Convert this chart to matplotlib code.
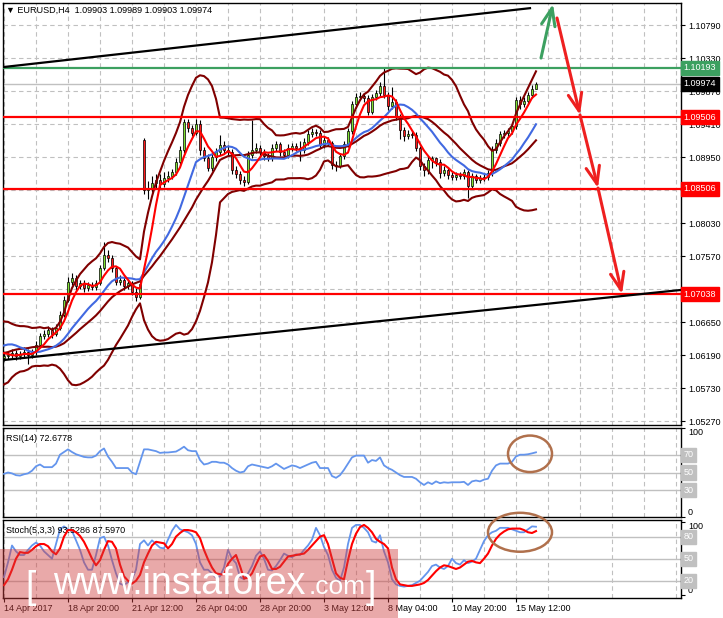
#!/usr/bin/env python3
"""
EURUSD H4 chart in MT4 style: candles, Bollinger bands, moving averages,
support/resistance levels, RSI(14) and Stochastic(5,3,3) panels.
"""

import matplotlib
matplotlib.use('Agg')  # Non-interactive backend
import matplotlib.pyplot as plt
import matplotlib.transforms as mtransforms
from matplotlib.patches import Ellipse, Rectangle
import numpy as np
import pandas as pd

plt.rcParams['font.family'] = ['Liberation Sans', 'DejaVu Sans']

# ---------------------------------------------------------------- data
# closes before the first visible bar, only used to warm up the indicators
warmup_close = [1.0585, 1.0595, 1.0580, 1.0590, 1.0600, 1.0615, 1.0605, 1.0600, 1.0620, 1.0640,
                1.0655, 1.0650, 1.0660, 1.0645, 1.0635, 1.0640, 1.0625, 1.0630, 1.0620, 1.0615]

bar_open = [1.0615, 1.0618, 1.0619, 1.0622, 1.0618, 1.0620, 1.0623, 1.0619, 1.0623, 1.0633,
            1.0646, 1.0648, 1.0654, 1.0648, 1.0657, 1.0675, 1.0696, 1.0721, 1.0726, 1.0715,
            1.0719, 1.0712, 1.0717, 1.0714, 1.0719, 1.0740, 1.0758, 1.0754, 1.0740, 1.0721,
            1.0724, 1.0715, 1.0719, 1.0707, 1.0700, 1.0919, 1.0849, 1.0852, 1.0859, 1.0863,
            1.0857, 1.0866, 1.0869, 1.0874, 1.0888, 1.0905, 1.0944, 1.0935, 1.0929, 1.0941,
            1.0905, 1.0894, 1.0880, 1.0895, 1.0902, 1.0912, 1.0905, 1.0902, 1.0877, 1.0871,
            1.0863, 1.0860, 1.0898, 1.0905, 1.0908, 1.0902, 1.0896, 1.0894, 1.0908, 1.0913,
            1.0902, 1.0898, 1.0908, 1.0910, 1.0908, 1.0905, 1.0916, 1.0927, 1.0930, 1.0929,
            1.0912, 1.0919, 1.0915, 1.0884, 1.0882, 1.0896, 1.0913, 1.0931, 1.0969, 1.0979,
            1.0980, 1.0977, 1.0958, 1.0979, 1.0984, 1.0994, 1.0981, 1.0966, 1.0972, 1.0951,
            1.0933, 1.0924, 1.0927, 1.0926, 1.0908, 1.0882, 1.0877, 1.0891, 1.0893, 1.0888,
            1.0873, 1.0877, 1.0870, 1.0867, 1.0870, 1.0869, 1.0874, 1.0855, 1.0869, 1.0863,
            1.0866, 1.0867, 1.0873, 1.0905, 1.0915, 1.0927, 1.0929, 1.0931, 1.0938, 1.0974,
            1.0969, 1.0973, 1.0981, 1.09903]

bar_high = [1.0623, 1.0624, 1.0628, 1.0626, 1.0625, 1.0630, 1.0627, 1.0627, 1.0638, 1.0650,
            1.0654, 1.0659, 1.0658, 1.0662, 1.0680, 1.0702, 1.0728, 1.0733, 1.0730, 1.0724,
            1.0723, 1.0721, 1.0721, 1.0724, 1.0745, 1.0777, 1.0765, 1.0758, 1.0743, 1.0730,
            1.0728, 1.0723, 1.0722, 1.0712, 1.0723, 1.0921, 1.0862, 1.0868, 1.0871, 1.0872,
            1.0874, 1.0876, 1.0879, 1.0893, 1.0910, 1.0948, 1.0948, 1.0940, 1.0948, 1.0946,
            1.0909, 1.0899, 1.0900, 1.0907, 1.0926, 1.0917, 1.0912, 1.0906, 1.0882, 1.0875,
            1.0868, 1.0903, 1.0947, 1.0914, 1.0912, 1.0906, 1.0900, 1.0913, 1.0918, 1.0916,
            1.0906, 1.0913, 1.0915, 1.0914, 1.0917, 1.0921, 1.0932, 1.0935, 1.0934, 1.0933,
            1.0924, 1.0923, 1.0918, 1.0890, 1.0900, 1.0917, 1.0935, 1.0973, 1.0984, 1.0985,
            1.0984, 1.0982, 1.0983, 1.0989, 1.0999, 1.1019, 1.0985, 1.0993, 1.0976, 1.0955,
            1.0937, 1.0932, 1.0931, 1.0930, 1.0911, 1.0887, 1.0896, 1.0897, 1.0895, 1.0892,
            1.0882, 1.0881, 1.0874, 1.0874, 1.0874, 1.0878, 1.0877, 1.0873, 1.0872, 1.0870,
            1.0871, 1.0877, 1.0910, 1.0920, 1.0931, 1.0932, 1.0935, 1.0943, 1.0978, 1.0980,
            1.0978, 1.0985, 1.0995, 1.09989]

bar_low = [1.0611, 1.0613, 1.0615, 1.0612, 1.0614, 1.0616, 1.0606, 1.0615, 1.0619, 1.0630,
           1.0641, 1.0644, 1.0643, 1.0645, 1.0654, 1.0672, 1.0693, 1.0716, 1.0710, 1.0711,
           1.0707, 1.0708, 1.0709, 1.0710, 1.0716, 1.0737, 1.0748, 1.0735, 1.0716, 1.0717,
           1.0710, 1.0711, 1.0703, 1.0694, 1.0697, 1.0843, 1.0836, 1.0846, 1.0852, 1.0850,
           1.0853, 1.0860, 1.0864, 1.0870, 1.0884, 1.0900, 1.0930, 1.0924, 1.0926, 1.0898,
           1.0889, 1.0875, 1.0876, 1.0890, 1.0898, 1.0900, 1.0897, 1.0872, 1.0866, 1.0858,
           1.0854, 1.0857, 1.0894, 1.0900, 1.0897, 1.0891, 1.0889, 1.0890, 1.0904, 1.0897,
           1.0893, 1.0894, 1.0904, 1.0903, 1.0890, 1.0901, 1.0912, 1.0923, 1.0924, 1.0907,
           1.0908, 1.0910, 1.0878, 1.0876, 1.0880, 1.0892, 1.0909, 1.0927, 1.0964, 1.0974,
           1.0972, 1.0953, 1.0955, 1.0975, 1.0980, 1.0977, 1.0961, 1.0962, 1.0946, 1.0920,
           1.0918, 1.0920, 1.0921, 1.0903, 1.0877, 1.0868, 1.0872, 1.0880, 1.0883, 1.0866,
           1.0869, 1.0865, 1.0863, 1.0863, 1.0864, 1.0865, 1.0838, 1.0851, 1.0859, 1.0859,
           1.0861, 1.0863, 1.0869, 1.0900, 1.0911, 1.0922, 1.0923, 1.0927, 1.0934, 1.0962,
           1.0965, 1.0969, 1.0977, 1.09903]

bar_close = [1.0618, 1.0619, 1.0622, 1.0618, 1.0620, 1.0623, 1.0619, 1.0623, 1.0633, 1.0646,
             1.0648, 1.0654, 1.0648, 1.0657, 1.0675, 1.0696, 1.0721, 1.0726, 1.0715, 1.0719,
             1.0712, 1.0717, 1.0714, 1.0719, 1.0740, 1.0758, 1.0754, 1.0740, 1.0721, 1.0724,
             1.0715, 1.0719, 1.0707, 1.0700, 1.0718, 1.0849, 1.0852, 1.0859, 1.0863, 1.0857,
             1.0866, 1.0869, 1.0874, 1.0888, 1.0905, 1.0944, 1.0935, 1.0929, 1.0941, 1.0905,
             1.0894, 1.0880, 1.0895, 1.0902, 1.0912, 1.0905, 1.0902, 1.0877, 1.0871, 1.0863,
             1.0860, 1.0898, 1.0905, 1.0908, 1.0902, 1.0896, 1.0894, 1.0908, 1.0913, 1.0902,
             1.0898, 1.0908, 1.0910, 1.0908, 1.0905, 1.0916, 1.0927, 1.0930, 1.0929, 1.0912,
             1.0919, 1.0915, 1.0884, 1.0882, 1.0896, 1.0913, 1.0931, 1.0969, 1.0979, 1.0980,
             1.0977, 1.0958, 1.0979, 1.0984, 1.0994, 1.0981, 1.0966, 1.0972, 1.0951, 1.0933,
             1.0924, 1.0927, 1.0926, 1.0908, 1.0882, 1.0877, 1.0891, 1.0893, 1.0888, 1.0873,
             1.0877, 1.0870, 1.0867, 1.0870, 1.0869, 1.0874, 1.0855, 1.0869, 1.0863, 1.0866,
             1.0867, 1.0873, 1.0905, 1.0915, 1.0927, 1.0929, 1.0931, 1.0938, 1.0974, 1.0969,
             1.0973, 1.0981, 1.0990, 1.09974]

rsi_values = [48.5, 50, 49, 47, 46.5, 48, 49, 52, 57, 59,
              56, 56, 56, 60, 70, 73, 76, 73, 70.5, 69,
              67.5, 67, 67, 69, 74, 77, 68, 62, 55, 55,
              55, 55, 50, 48, 62, 76, 76, 75, 74, 72,
              72.5, 72.5, 73, 73.5, 76, 79, 75, 74, 74, 64,
              59, 60, 62, 62, 61, 61, 59, 55, 52, 50,
              51, 57, 59, 58, 57, 56, 55, 57, 60, 57,
              54, 56, 58, 57, 55, 57, 59, 61, 62, 55,
              55, 55, 46, 44, 47, 53, 60, 67, 69, 69,
              69, 61, 64, 63, 67, 58, 55, 53, 50, 47,
              45, 45, 45, 43, 39, 36, 39, 37, 40, 38,
              39, 38.5, 39, 39, 39, 39.5, 36, 40, 41, 40,
              42, 43, 52, 58, 60, 60, 60, 62, 68, 70,
              70, 70.5, 71.5, 72.6778]

stoch_main = [25, 45, 68, 60, 55, 55, 62, 68, 72, 68,
              60, 55, 50, 70, 90, 94, 90, 88, 75, 62,
              45, 35, 35, 55, 78, 80, 68, 48, 30, 16,
              14, 18, 22, 35, 70, 75, 68, 75, 70, 65,
              64, 76, 88, 96, 90, 88, 86, 82, 70, 45,
              35, 35, 30, 24, 26, 38, 62, 50, 44, 25,
              22, 30, 40, 54, 60, 50, 35, 34, 40, 48,
              57, 54, 52, 56, 55, 62, 68, 76, 92, 82,
              66, 55, 35, 24, 20, 38, 70, 92, 96, 96,
              92, 86, 74, 72, 82, 60, 45, 22, 15, 13,
              12, 13, 14, 17, 20, 26, 32, 40, 42, 38,
              36, 40, 50, 44, 42, 48, 44, 46, 50, 62,
              74, 82, 86, 88, 92, 92, 92, 90, 88, 86,
              86, 90, 94, 93.5286]

stoch_signal = [14, 22, 35, 50, 59, 58, 58, 62, 67, 70,
                70, 67, 60, 56, 64, 80, 89, 89, 86, 81,
                73, 62, 50, 41, 48, 62, 74, 73, 64, 42,
                26, 20, 16, 20, 28, 45, 57, 68, 73, 72,
                71, 64, 70, 80, 85, 89, 89, 88, 86, 78,
                62, 49, 38, 30, 29, 28, 43, 50, 55, 40,
                23, 24, 30, 42, 53, 55, 47, 36, 36, 39,
                46, 53, 54, 55, 56, 57, 62, 68, 74, 80,
                82, 70, 50, 30, 24, 22, 48, 70, 84, 93,
                96, 92, 86, 77, 73, 70, 64, 38, 22, 15,
                14, 13, 13, 14, 15, 17, 21, 27, 33, 38,
                41, 40, 38, 36, 38, 42, 46, 47, 45, 44,
                50, 57, 68, 77, 83, 87, 90, 91, 91, 91,
                89, 86, 85, 87.597]

# horizontal levels drawn on the chart
resistance_level = 1.10193
red_levels = [1.09506, 1.08506, 1.07038]
last_price = 1.09974

# trend lines (bar index, price)
upper_trend_bars = [0, 131.5]
upper_trend_prices = [1.10205, 1.11025]
lower_trend_bars = [0, 169]
lower_trend_prices = [1.06121, 1.07096]

# forecast arrows: (start bar, start price) -> (end bar, end price)
green_arrow = [(134.25, 1.10330), (137.25, 1.11083)]
red_arrows = [[(138.25, 1.10888), (144.0, 1.09536)],
              [(144.0, 1.09536), (148.5, 1.08518)],
              [(148.5, 1.08518), (154.5, 1.07041)]]

price_ticks = [1.10790, 1.10330, 1.09870, 1.09410, 1.08950, 1.08490, 1.08030,
               1.07570, 1.07110, 1.06650, 1.06190, 1.05730, 1.05270]
# tick labels hidden behind the level boxes
hidden_price_labels = [1.08490, 1.07110]
time_ticks = [0, 16, 32, 48, 64, 80, 96, 112, 128]
time_labels = ['14 Apr 2017', '18 Apr 20:00', '21 Apr 12:00', '26 Apr 04:00',
               '28 Apr 20:00', '3 May 12:00', '8 May 04:00', '10 May 20:00', '15 May 12:00']

# ---------------------------------------------------------------- style
FS = 6.5
GRID = '#C0C0C0'
BULL = '#7FE030'
BEAR = '#FF1A1A'
BAND = '#800000'
MA_FAST = '#FF0000'
MA_SLOW = '#4169E1'
LEVEL_RED = '#FF0000'
LEVEL_GREEN = '#3CA060'
OSC_BLUE = '#6495ED'
CIRCLE = '#B0704C'
XMIN, XMAX = -0.25, 169.25


def indicators():
    """SMA(5), SMA(14) and Bollinger(20, 2) on the closes."""
    closes = pd.Series(warmup_close + bar_close)
    n = len(warmup_close)
    sma5 = closes.rolling(5).mean().to_numpy()[n:]
    sma14 = closes.rolling(14).mean().to_numpy()[n:]
    mid = closes.rolling(20).mean()
    sd = closes.rolling(20).std(ddof=0)
    upper = (mid + 2 * sd).to_numpy()[n:]
    lower = (mid - 2 * sd).to_numpy()[n:]
    return sma5, sma14, mid.to_numpy()[n:], upper, lower


def style_panel(ax):
    ax.set_xlim(XMIN, XMAX)
    ax.yaxis.tick_right()
    ax.tick_params(axis='y', direction='out', length=3, pad=2, labelsize=FS, width=0.8)
    ax.tick_params(axis='x', length=0, labelbottom=False)
    ax.set_xticks(np.arange(0, 170, 8))
    ax.grid(True, axis='x', color=GRID, linestyle=(0, (4, 3)), linewidth=0.8)
    for s in ax.spines.values():
        s.set_color('black')
        s.set_linewidth(1.0)


def box_label(ax, y, text, fc, tc='white'):
    trans = mtransforms.blended_transform_factory(ax.transAxes, ax.transData)
    ax.text(1.004, y, text, transform=trans, ha='left', va='center', fontsize=FS,
            color=tc, zorder=20, clip_on=False,
            bbox=dict(boxstyle='square,pad=0.28', fc=fc, ec=fc))


def draw_main(ax):
    bars = np.arange(len(bar_close))
    o = np.array(bar_open)
    c = np.array(bar_close)
    bull = c >= o
    bottoms = np.minimum(o, c)
    heights = np.abs(c - o)
    colors = [BULL if b else BEAR for b in bull]

    ax.vlines(bars, bar_low, bar_high, color='black', linewidth=0.8, zorder=3)
    ax.bar(bars, heights, bottom=bottoms, width=0.62, color=colors,
           edgecolor='black', linewidth=0.5, zorder=3.1)

    sma5, sma14, mid, upper, lower = indicators()
    for line in (upper, mid, lower):
        ax.plot(bars, line, color=BAND, linewidth=1.5, zorder=4)
    ax.plot(bars, sma14, color=MA_SLOW, linewidth=1.5, zorder=4.1)
    ax.plot(bars, sma5, color=MA_FAST, linewidth=1.5, zorder=4.2)

    # levels and trend lines
    ax.axhline(last_price, color=GRID, linewidth=1.0, zorder=2)
    ax.axhline(resistance_level, color=LEVEL_GREEN, linewidth=1.6, zorder=5)
    for lvl in red_levels:
        ax.axhline(lvl, color=LEVEL_RED, linewidth=1.6, zorder=5)
    ax.plot(upper_trend_bars, upper_trend_prices, color='black', linewidth=1.6, zorder=5)
    ax.plot(lower_trend_bars, lower_trend_prices, color='black', linewidth=1.6, zorder=5)

    # forecast arrows
    arrow_kw = dict(arrowstyle='->,head_length=0.9,head_width=0.35', lw=2.2,
                    mutation_scale=14, shrinkA=0, shrinkB=0)
    ax.annotate('', xy=green_arrow[1], xytext=green_arrow[0],
                arrowprops=dict(color=LEVEL_GREEN, **arrow_kw), zorder=6)
    for start, end in red_arrows:
        ax.annotate('', xy=end, xytext=start,
                    arrowprops=dict(color='#EE2020', **arrow_kw), zorder=6)

    ax.set_ylim(1.05215, 1.11097)
    ax.set_yticks(price_ticks)
    ax.set_yticklabels(['' if t in hidden_price_labels else f'{t:.5f}' for t in price_ticks])
    ax.grid(True, axis='y', color=GRID, linestyle=(0, (4, 3)), linewidth=0.8)
    ax.set_axisbelow(True)

    box_label(ax, resistance_level, f'{resistance_level:.5f}', LEVEL_GREEN)
    box_label(ax, last_price, f'{last_price:.5f}', 'black')
    for lvl in red_levels:
        box_label(ax, lvl, f'{lvl:.5f}', LEVEL_RED)

    ax.text(0.004, 0.993, '\u25bc EURUSD,H4  1.09903 1.09989 1.09903 1.09974',
            transform=ax.transAxes, ha='left', va='top', fontsize=FS, zorder=20)


def draw_oscillator(ax, levels, ylim):
    ax.set_ylim(*ylim)
    for lvl in levels:
        ax.axhline(lvl, color=GRID, linewidth=1.0, zorder=1)
    ax.set_yticks([0, 100])
    ax.set_yticklabels(['0', '100'])
    labels = ax.get_yticklabels()
    labels[0].set_va('bottom')
    labels[1].set_va('top')
    for lvl in levels:
        box_label(ax, lvl, str(lvl), GRID)


def main():
    fig = plt.figure(figsize=(7.23, 6.18), dpi=100)
    fig.patch.set_facecolor('white')

    left, width = 3 / 723, 678 / 723
    ax = fig.add_axes([left, 1 - 425 / 618, width, 422 / 618])
    ax_rsi = fig.add_axes([left, 1 - 517 / 618, width, 89 / 618])
    ax_sto = fig.add_axes([left, 1 - 598 / 618, width, 78 / 618])
    for a in (ax, ax_rsi, ax_sto):
        style_panel(a)

    draw_main(ax)

    bars = np.arange(len(bar_close))

    # RSI panel
    draw_oscillator(ax_rsi, [70, 50, 30], (0, 100))
    ax_rsi.plot(bars, rsi_values, color=OSC_BLUE, linewidth=1.3, zorder=3)
    ax_rsi.text(0.004, 0.93, 'RSI(14) 72.6778', transform=ax_rsi.transAxes,
                ha='left', va='top', fontsize=FS)
    ax_rsi.add_patch(Ellipse((131.5, 71), 11, 41, fill=False, edgecolor=CIRCLE,
                             linewidth=1.8, clip_on=False, zorder=8))

    # Stochastic panel
    draw_oscillator(ax_sto, [80, 50, 20], (-3.5, 102.7))
    ax_sto.plot(bars, stoch_main, color=OSC_BLUE, linewidth=1.3, zorder=3)
    ax_sto.plot(bars, stoch_signal, color=MA_FAST, linewidth=1.5, zorder=3.1)
    ax_sto.text(0.004, 0.92, 'Stoch(5,3,3) 93.5286 87.5970', transform=ax_sto.transAxes,
                ha='left', va='top', fontsize=FS)
    ax_sto.add_patch(Ellipse((129, 86), 16, 53, fill=False, edgecolor=CIRCLE,
                             linewidth=1.8, clip_on=False, zorder=8))

    # time axis under the bottom panel
    ax_sto.set_xticks(time_ticks)
    ax_sto.set_xticks(np.arange(8, 170, 16), minor=True)
    ax_sto.grid(True, axis='x', which='both', color=GRID, linestyle=(0, (4, 3)), linewidth=0.8)
    ax_sto.set_xticklabels(time_labels, ha='left')
    ax_sto.tick_params(axis='x', which='major', length=3, labelbottom=True,
                       labelsize=FS, pad=1.5)
    ax_sto.tick_params(axis='x', which='minor', length=0)

    # watermark band
    fig.patches.append(Rectangle((0, 0), 398 / 723, 69 / 618, transform=fig.transFigure,
                                 facecolor='#D04040', alpha=0.45, edgecolor='none',
                                 zorder=30))
    fig.text(25 / 723, 1 - 598 / 618, '[', color='white', fontsize=27, zorder=31,
             ha='left', va='baseline')
    fig.text(53 / 723, 1 - 594 / 618, 'www.instaforex', color='white', fontsize=27,
             zorder=31, ha='left', va='baseline')
    fig.text(309 / 723, 1 - 594 / 618, '.com', color='white', fontsize=19,
             zorder=31, ha='left', va='baseline')
    fig.text(366 / 723, 1 - 598 / 618, ']', color='white', fontsize=27, zorder=31,
             ha='left', va='baseline')

    fig.savefig('out.png', dpi=100, facecolor='white')
    print('Chart saved to out.png')


if __name__ == '__main__':
    main()
